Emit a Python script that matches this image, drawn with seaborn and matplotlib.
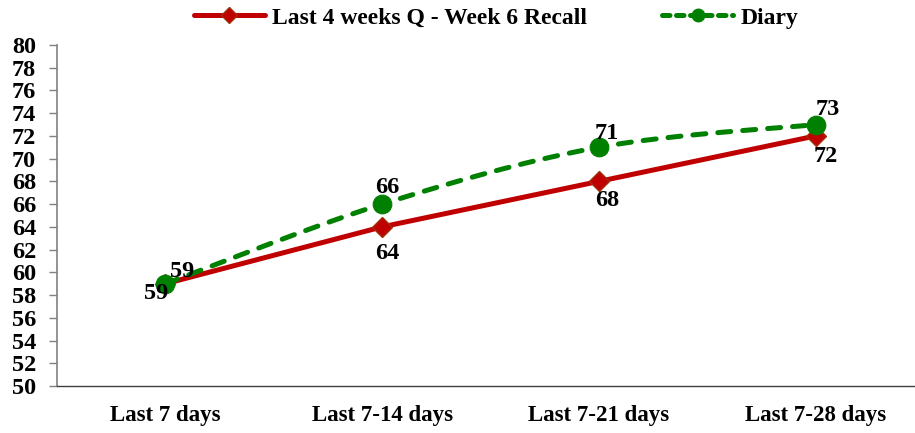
import numpy as np
import matplotlib
matplotlib.use("Agg")
import matplotlib.pyplot as plt
import seaborn as sns
from matplotlib.lines import Line2D

categories = ["Last 7 days", "Last 7-14 days", "Last 7-21 days", "Last 7-28 days"]
recall_values = [59, 64, 68, 72]
diary_values = [59, 66, 71, 73]
series_names = ["Last 4 weeks Q - Week 6 Recall", "Diary"]
y_ticks = list(range(50, 81, 2))

sns.set_theme(style="white")
plt.rcParams["font.family"] = ["Liberation Serif", "DejaVu Serif"]
plt.rcParams["font.weight"] = "bold"
plt.rcParams["text.color"] = "black"
plt.rcParams["xtick.labelcolor"] = "black"
plt.rcParams["ytick.labelcolor"] = "black"

RED = "#C00000"
RED_EDGE = "#A0300A"
GREEN = "#008000"

fig = plt.figure(figsize=(9.15, 4.33), dpi=100)
ax = fig.add_axes([57 / 915, 47 / 433, 867 / 915, 341 / 433])

x = np.arange(len(categories))


def catmull_rom(xs, ys, n=40):
    """Smooth curve through the points (Catmull-Rom spline)."""
    px = np.concatenate([[xs[0]], xs, [xs[-1]]]).astype(float)
    py = np.concatenate([[ys[0]], ys, [ys[-1]]]).astype(float)
    out_x, out_y = [], []
    t = np.linspace(0, 1, n)
    for i in range(1, len(px) - 2):
        p0, p1, p2, p3 = [np.array([px[j], py[j]]) for j in (i - 1, i, i + 1, i + 2)]
        m1 = (p2 - p0) / 2
        m2 = (p3 - p1) / 2
        h00 = 2 * t**3 - 3 * t**2 + 1
        h10 = t**3 - 2 * t**2 + t
        h01 = -2 * t**3 + 3 * t**2
        h11 = t**3 - t**2
        seg = (np.outer(h00, p1) + np.outer(h10, m1) + np.outer(h01, p2) + np.outer(h11, m2))
        out_x.extend(seg[:, 0])
        out_y.extend(seg[:, 1])
    return np.array(out_x), np.array(out_y)


# Recall series: straight segments with diamond markers
sns.lineplot(x=x, y=recall_values, ax=ax, color=RED, linewidth=3.6,
             marker="D", markersize=10, markerfacecolor=RED,
             markeredgecolor=RED_EDGE, markeredgewidth=1.0,
             label=series_names[0], zorder=3)

# Diary series: smoothed dashed curve with circle markers
sx, sy = catmull_rom(x, diary_values)
ax.plot(sx, sy, color=GREEN, linewidth=3.6, linestyle=(0, (2.6, 2.4)),
        dash_capstyle="round", zorder=4)
sns.lineplot(x=x, y=diary_values, ax=ax, color=GREEN, linewidth=0,
             marker="o", markersize=13.5, markerfacecolor=GREEN,
             markeredgecolor=GREEN, zorder=5)

# Value labels
red_offsets = [(-7, -7), (4, -19), (6, -14), (7, -15)]
green_offsets = [(12, 9), (4, 12), (6, 10), (9, 11)]
for xi, v, off in zip(x, recall_values, red_offsets):
    ax.annotate(f"{v}", (xi, v), xytext=off, textcoords="offset points",
                ha="center", va="center", fontsize=17.5, fontweight="bold",
                color="black", zorder=6)
for xi, v, off in zip(x, diary_values, green_offsets):
    ax.annotate(f"{v}", (xi, v), xytext=off, textcoords="offset points",
                ha="center", va="center", fontsize=17.5, fontweight="bold",
                color="black", zorder=6)

# Axes
ax.set_xlim(-0.5, len(categories) - 0.5)
ax.set_ylim(50, 80)
ax.set_yticks(y_ticks)
ax.set_yticklabels([str(t) for t in y_ticks], fontsize=17.5, fontweight="bold", color="black")
ax.set_xticks(x)
ax.set_xticklabels(categories, fontsize=16.5, fontweight="bold", color="black")
ax.set_xticks(np.arange(-0.5, len(categories), 1.0), minor=True)
ax.tick_params(axis="x", which="major", length=0, pad=14)
ax.tick_params(axis="x", which="minor", length=6, width=1, color="#808080", direction="out")
ax.tick_params(axis="y", which="major", length=6, width=1, color="#808080",
               direction="out", pad=9, left=True)

sns.despine(ax=ax, top=True, right=True)
ax.spines["left"].set_color("#808080")
ax.spines["left"].set_linewidth(1.2)
ax.spines["bottom"].set_color("#404040")
ax.spines["bottom"].set_linewidth(1.0)
ax.set_xlabel("")
ax.set_ylabel("")
ax.grid(False)

# Legend
handles = [
    Line2D([], [], color=RED, linewidth=3.6, marker="D", markersize=8,
           markerfacecolor=RED, markeredgecolor=RED_EDGE),
    Line2D([], [], color=GREEN, linewidth=3.6, linestyle=(0, (1.5, 1.3)),
           dash_capstyle="round", marker="o", markersize=9,
           markerfacecolor=GREEN, markeredgecolor=GREEN),
]
leg = ax.legend(handles, series_names, loc="center", bbox_to_anchor=(496 / 915, 1 - 18 / 433),
                bbox_transform=fig.transFigure, ncol=2, frameon=False,
                prop={"family": "Liberation Serif", "weight": "bold", "size": 17},
                handlelength=3.0, handletextpad=0.3, columnspacing=3.2)
for t in leg.get_texts():
    t.set_color("black")

fig.savefig("out.png", dpi=100)
